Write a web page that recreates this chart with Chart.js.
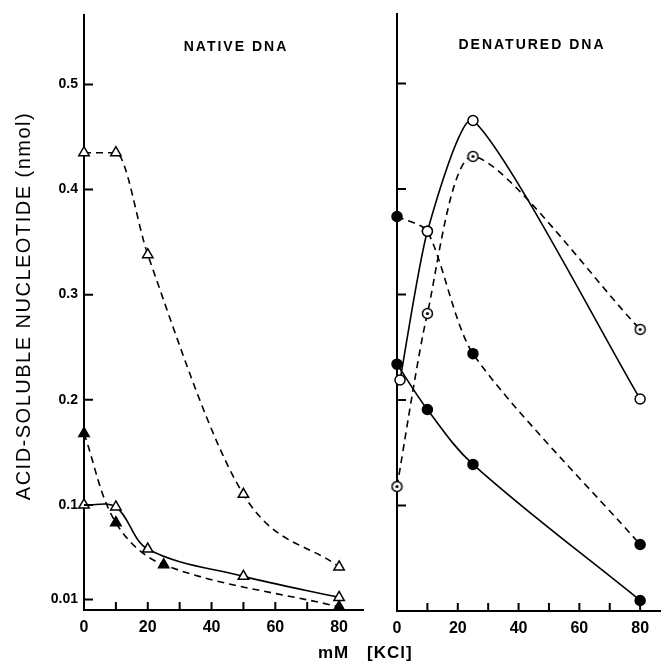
<!DOCTYPE html>
<html>
<head>
<meta charset="utf-8">
<script src="https://cdn.jsdelivr.net/npm/chart.js@4.4.1/dist/chart.umd.min.js"></script>
<style>
  body { margin: 0; background: #fff; }
  #wrap { position: relative; width: 668px; height: 669px; }
  .box { position: absolute; top: 0; height: 669px; }
  #leftBox { left: 0; width: 372px; }
  #rightBox { left: 372px; width: 296px; }
  #xlab { position: absolute; left: 318px; top: 643px; font: bold 17px "Liberation Sans", Arial, sans-serif; word-spacing: 12px; letter-spacing: 1px; }
</style>
</head>
<body>
<div id="wrap">
  <div class="box" id="leftBox"><canvas id="leftChart"></canvas></div>
  <div class="box" id="rightBox"><canvas id="rightChart"></canvas></div>
  <div id="xlab">mM [KCl]</div>
</div>
<script>
// KCl concentration (mM) and acid-soluble nucleotide (nmol)
// native DNA
var nativeX1 = [0, 10, 20, 50, 80];
var nativeOpenDashed = [0.435, 0.435, 0.338, 0.11, 0.041];
var nativeOpenSolid = [0.1, 0.098, 0.058, 0.032, 0.012];
var nativeX2 = [0, 10, 25, 80];
var nativeFilledDashed = [0.168, 0.083, 0.043, 0.003];

// denatured DNA
var denX0 = [1, 10, 25, 80];
var denOpenSolid = [0.219, 0.36, 0.465, 0.201];
var denX = [0, 10, 25, 80];
var denDotDashed = [0.118, 0.282, 0.431, 0.267];
var denFilledDashed = [0.374, 0.36, 0.244, 0.063];
var denFilledSolid = [0.234, 0.191, 0.139, 0.010];

var xTicks = [10, 20, 30, 40, 50, 60, 70, 80];
var yTicksLeft = [0.01, 0.1, 0.2, 0.3, 0.4, 0.5];
var yTicksRight = [0.1, 0.2, 0.3, 0.4, 0.5];

function pts(xs, ys) {
    return xs.map(function (x, i) { return {x: x, y: ys[i]}; });
}

// circle with a dot in the middle
var dotCircle = document.createElement('canvas');
dotCircle.width = 13; dotCircle.height = 13;
(function () {
    var c = dotCircle.getContext('2d');
    c.beginPath(); c.arc(6.5, 6.5, 5, 0, Math.PI * 2);
    c.fillStyle = '#fff'; c.fill();
    c.lineWidth = 1.5; c.strokeStyle = '#000'; c.stroke();
    c.beginPath(); c.arc(6.5, 6.5, 1.6, 0, Math.PI * 2);
    c.fillStyle = '#000'; c.fill();
})();

var inTicks = {
    id: 'inTicks',
    afterDatasetsDraw: function (chart, args, opts) {
        var ctx = chart.ctx, xs = chart.scales.x, ys = chart.scales.y;
        var a = chart.chartArea;
        ctx.save();
        ctx.strokeStyle = '#000';
        ctx.lineWidth = 2;
        ctx.beginPath();
        opts.x.forEach(function (v) {
            var p = xs.getPixelForValue(v);
            ctx.moveTo(p, a.bottom); ctx.lineTo(p, a.bottom - 8);
        });
        opts.y.forEach(function (v) {
            var p = ys.getPixelForValue(v);
            ctx.moveTo(a.left, p); ctx.lineTo(a.left + 9, p);
        });
        ctx.stroke();
        ctx.restore();
    }
};

var panelText = {
    id: 'panelText',
    afterDraw: function (chart, args, opts) {
        var ctx = chart.ctx;
        ctx.save();
        ctx.fillStyle = '#000';
        ctx.textAlign = 'center';
        ctx.textBaseline = 'middle';
        ctx.font = 'bold 14px "Liberation Sans", Arial, sans-serif';
        ctx.letterSpacing = '2px';
        ctx.fillText(opts.label, opts.lx, opts.ly);
        if (opts.ytitle) {
            ctx.letterSpacing = '1.5px';
            ctx.font = '20px "Liberation Sans", Arial, sans-serif';
            ctx.translate(24, 306);
            ctx.rotate(-Math.PI / 2);
            ctx.fillText(opts.ytitle, 0, 0);
        }
        ctx.restore();
    }
};

function lineDs(data, dashed, style, opts) {
    var ds = {
        data: data,
        borderColor: '#000',
        borderWidth: 1.6,
        borderDash: dashed ? [7, 5] : [],
        pointStyle: style,
        pointBorderColor: '#000',
        pointBorderWidth: 1.5,
        pointRadius: 6,
        pointHoverRadius: 6,
        tension: 0.35,
        clip: false
    };
    for (var k in opts) ds[k] = opts[k];
    return ds;
}

function axes(yw, xh, yLabels, yTicks, xMax) {
    return {
        x: {
            type: 'linear', min: 0, max: xMax,
            afterBuildTicks: function (s) { s.ticks = [0].concat(xTicks).map(function (v) { return {value: v}; }); },
            afterFit: function (s) { s.height = xh; },
            grid: {display: false, drawTicks: false},
            border: {display: true, color: '#000', width: 2},
            ticks: {
                color: '#000', padding: 8, maxRotation: 0, autoSkip: false,
                font: {family: '"Liberation Sans", Arial, sans-serif', size: 16, weight: 'bold'},
                callback: function (v) { return v % 20 === 0 ? String(v) : ''; }
            }
        },
        y: {
            type: 'linear', min: 0, max: 0.566,
            afterBuildTicks: function (s) { s.ticks = yTicks.map(function (v) { return {value: v}; }); },
            afterFit: function (s) { s.width = yw; },
            grid: {display: false, drawTicks: false},
            border: {display: true, color: '#000', width: 2},
            ticks: {
                display: yLabels, color: '#000', padding: 6, autoSkip: false,
                font: {family: '"Liberation Sans", Arial, sans-serif', size: 14, weight: 'bold'},
                callback: function (v) { return String(v); }
            }
        }
    };
}

new Chart(document.getElementById('leftChart'), {
    type: 'line',
    data: {
        datasets: [
            lineDs(pts(nativeX1, nativeOpenDashed), true, 'triangle', {pointBackgroundColor: '#fff', cubicInterpolationMode: 'monotone'}),
            lineDs(pts(nativeX1, nativeOpenSolid), false, 'triangle', {pointBackgroundColor: '#fff'}),
            lineDs(pts(nativeX2, nativeFilledDashed), true, 'triangle', {pointBackgroundColor: '#000'})
        ]
    },
    options: {
        responsive: true,
        maintainAspectRatio: false,
        animation: false,
        layout: {padding: {top: 15, right: 9, left: 0, bottom: 0}},
        scales: axes(84, 59, true, yTicksLeft, 87.5),
        plugins: {
            legend: {display: false},
            tooltip: {enabled: false},
            inTicks: {x: xTicks, y: yTicksLeft},
            panelText: {label: 'NATIVE DNA', lx: 236, ly: 47, ytitle: 'ACID-SOLUBLE NUCLEOTIDE (nmol)'}
        }
    },
    plugins: [inTicks, panelText]
});

new Chart(document.getElementById('rightChart'), {
    type: 'line',
    data: {
        datasets: [
            lineDs(pts(denX, denFilledDashed), true, 'circle', {pointRadius: 5, pointBackgroundColor: ['#000', '#fff', '#000', '#000'], tension: 0.25}),
            lineDs(pts(denX, denFilledSolid), false, 'circle', {pointRadius: 5, pointBackgroundColor: '#000'}),
            lineDs(pts(denX, denDotDashed), true, dotCircle, {tension: 0.25}),
            lineDs(pts(denX0, denOpenSolid), false, 'circle', {pointRadius: 5, pointBackgroundColor: '#fff', tension: 0.2})
        ]
    },
    options: {
        responsive: true,
        maintainAspectRatio: false,
        animation: false,
        layout: {padding: {top: 14, right: 0, left: 0, bottom: 0}},
        scales: axes(25, 58, false, yTicksRight, 86.7),
        plugins: {
            legend: {display: false},
            tooltip: {enabled: false},
            inTicks: {x: xTicks, y: yTicksRight},
            panelText: {label: 'DENATURED DNA', lx: 160, ly: 45}
        }
    },
    plugins: [inTicks, panelText]
});
</script>
</body>
</html>
